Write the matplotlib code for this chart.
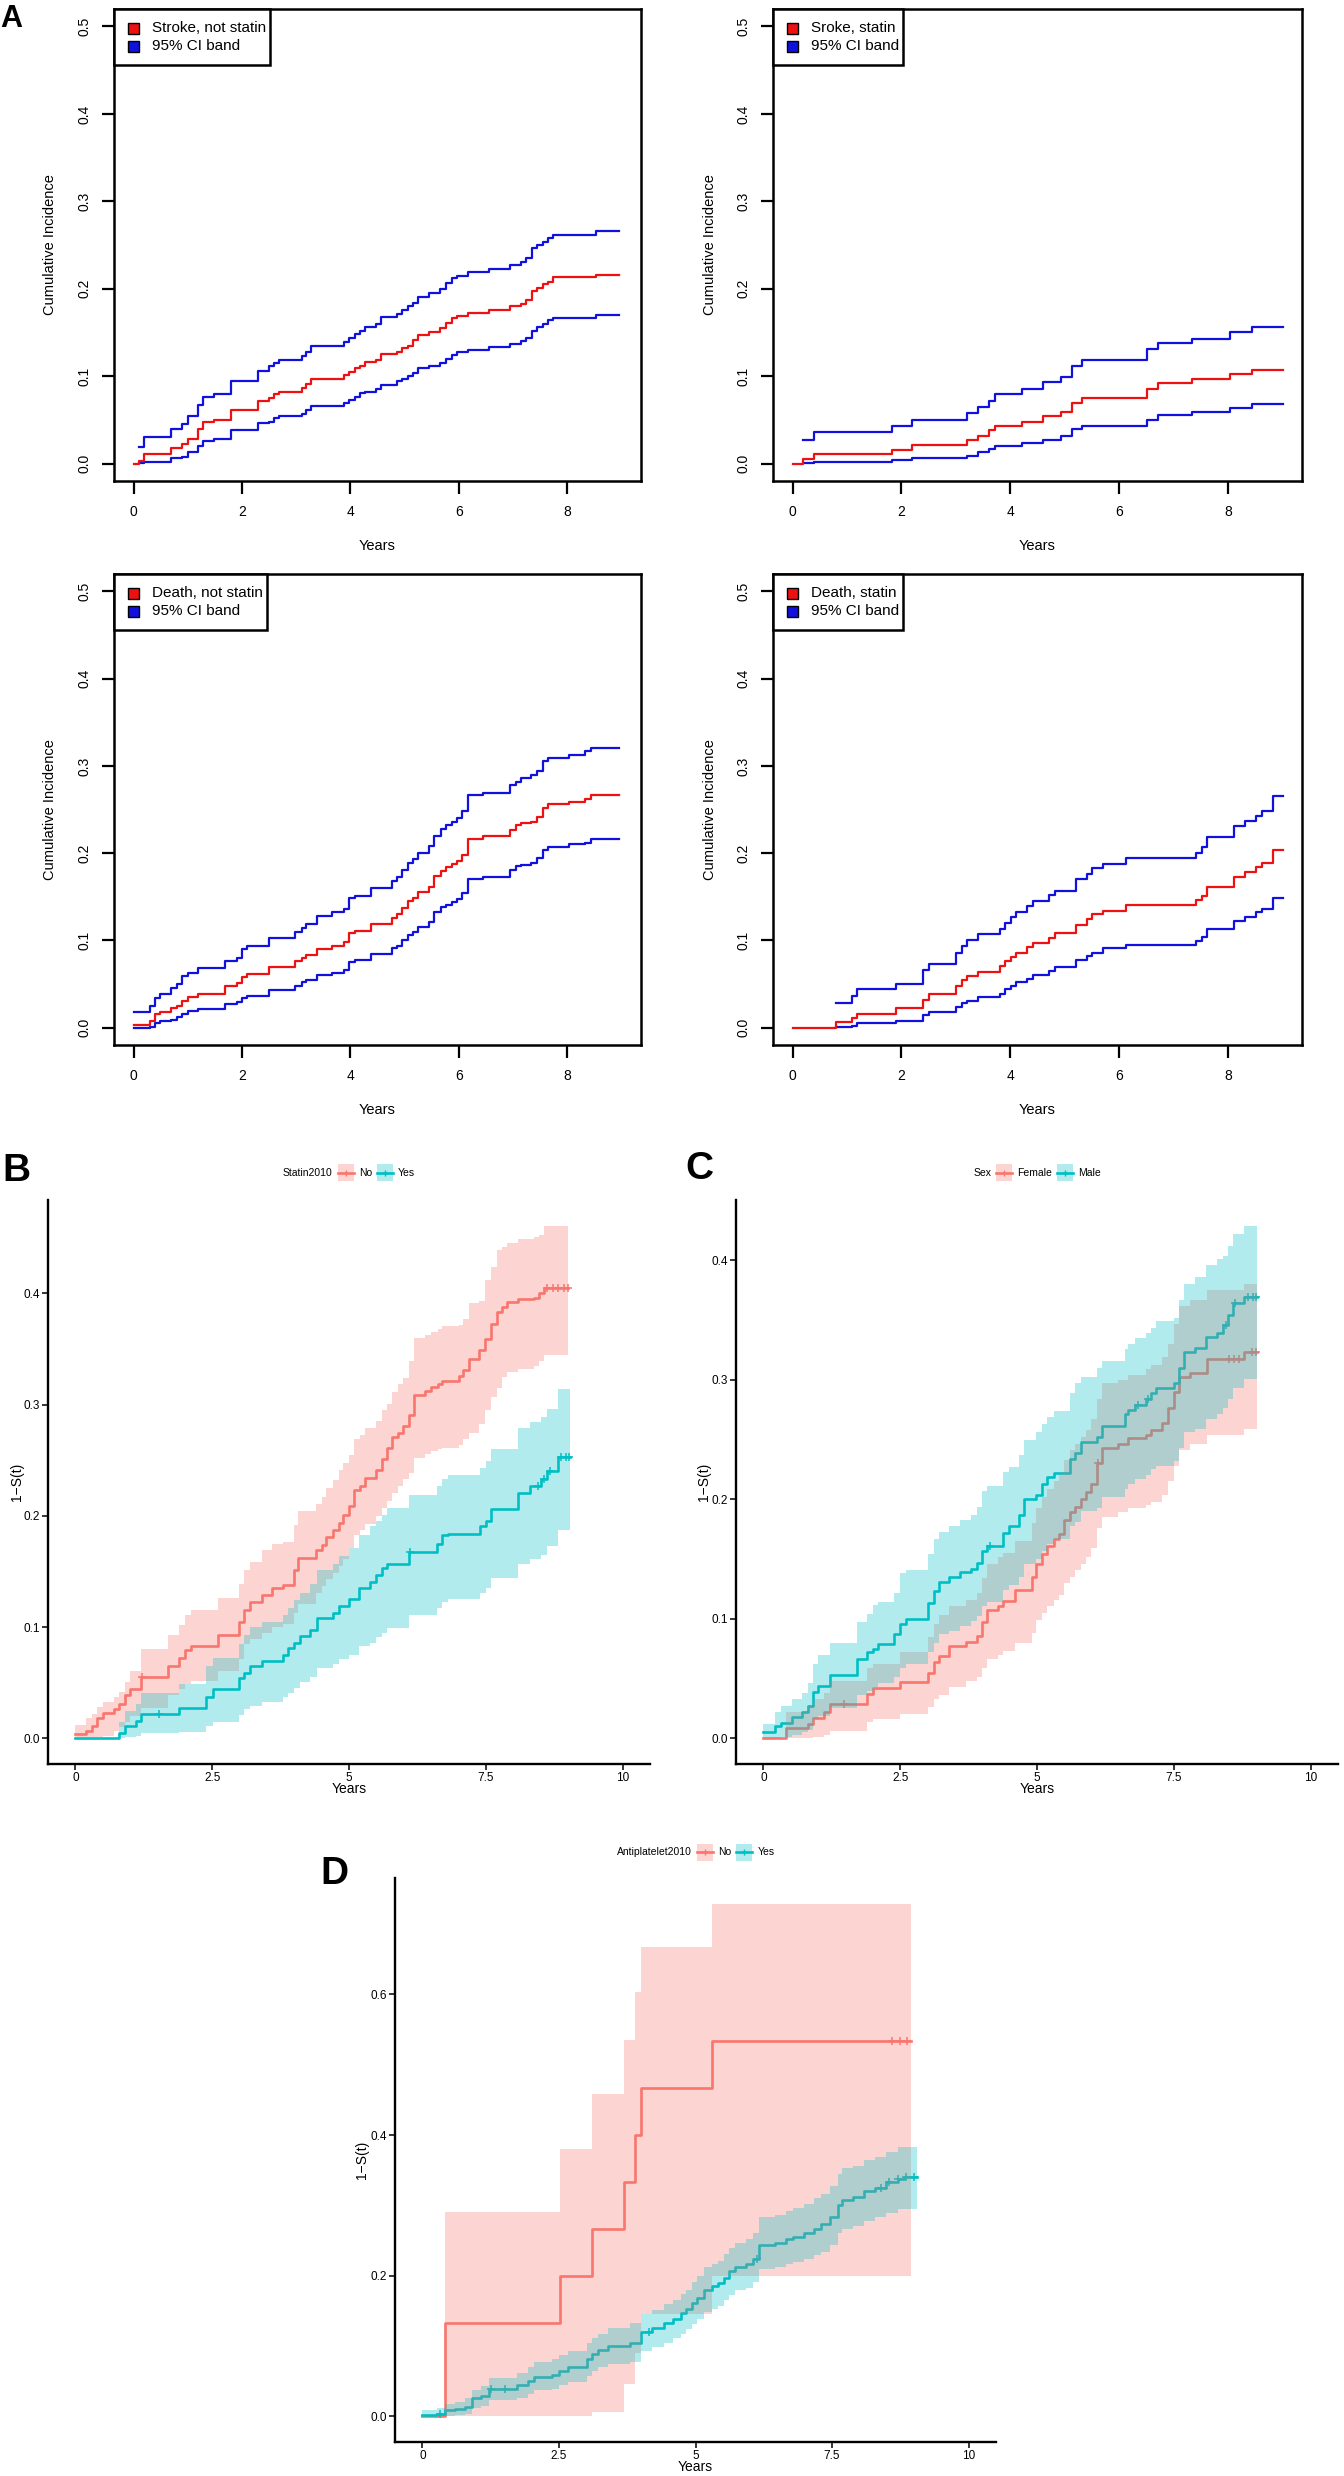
import numpy as np
import matplotlib
matplotlib.use("Agg")
import matplotlib.pyplot as plt
from matplotlib.patches import Rectangle
from matplotlib.lines import Line2D

plt.rcParams['font.family'] = ['Liberation Sans', 'DejaVu Sans']

W, H = 1344, 2476
nan = np.nan

# ======================= DATA =======================
# ---- Panel A1: Stroke, not statin ----
a1_t = [0, 0.10, 0.20, 0.69, 0.90, 1.00, 1.19, 1.29, 1.49, 1.80,
        2.29, 2.49, 2.59, 2.69, 3.10, 3.19, 3.28, 3.88, 3.98, 4.08,
        4.18, 4.27, 4.47, 4.57, 4.86, 4.96, 5.06, 5.16, 5.25, 5.45,
        5.65, 5.76, 5.87, 5.96, 6.16, 6.55, 6.94, 7.14, 7.23, 7.35,
        7.44, 7.55, 7.65, 7.74, 8.53]
a1_end = 8.96
a1_est = [0, .003, .011, .018, .022, .028, .040, .047, .050, .061,
          .072, .075, .079, .082, .086, .091, .097, .101, .105, .109,
          .112, .116, .119, .125, .128, .132, .135, .141, .147, .151,
          .155, .161, .166, .169, .172, .176, .180, .183, .187, .197,
          .201, .205, .208, .213, .216]
a1_hi = [nan, .019, .030, .039, .045, .054, .067, .076, .080, .094,
         .106, .111, .115, .119, .123, .128, .135, .139, .144, .148,
         .152, .156, .160, .168, .171, .176, .180, .184, .191, .195,
         .200, .206, .212, .215, .219, .222, .227, .231, .235, .246,
         .250, .254, .258, .261, .266]
a1_lo = [nan, .001, .002, .006, .008, .013, .020, .026, .028, .038,
         .046, .048, .052, .054, .057, .061, .066, .069, .073, .076,
         .081, .082, .085, .090, .094, .097, .100, .103, .109, .112,
         .115, .120, .124, .128, .130, .133, .137, .140, .144, .152,
         .156, .160, .164, .166, .170]

# ---- Panel A2: Stroke, statin ----
a2_t = [0, 0.20, 0.40, 1.82, 2.20, 3.21, 3.40, 3.61, 3.71, 4.22,
        4.60, 4.94, 5.13, 5.32, 6.51, 6.72, 7.33, 8.03, 8.45]
a2_end = 9.02
a2_est = [0, .0055, .011, .016, .021, .027, .032, .038, .043, .048,
          .054, .059, .069, .075, .085, .092, .097, .102, .107]
a2_hi = [nan, .027, .036, .043, .050, .058, .065, .072, .079, .085,
         .093, .099, .112, .119, .131, .138, .143, .150, .156]
a2_lo = [nan, .001, .002, .004, .006, .009, .013, .017, .020, .024,
         .027, .032, .039, .043, .050, .056, .059, .063, .068]

# ---- Panel A3: Death, not statin ----
a3_t = [0, 0.30, 0.39, 0.49, 0.69, 0.80, 0.90, 1.00, 1.19, 1.69,
        1.90, 2.00, 2.10, 2.49, 2.98, 3.10, 3.19, 3.39, 3.67, 3.88,
        3.98, 4.08, 4.38, 4.77, 4.86, 4.96, 5.06, 5.16, 5.25, 5.45,
        5.55, 5.67, 5.76, 5.87, 5.96, 6.06, 6.16, 6.45, 6.94, 7.06,
        7.15, 7.33, 7.44, 7.55, 7.65, 8.04, 8.33, 8.43]
a3_end = 8.96
a3_est = [.003, .007, .015, .018, .022, .025, .031, .035, .039, .048,
          .051, .058, .061, .069, .076, .080, .083, .090, .094, .098,
          .108, .111, .119, .126, .130, .137, .145, .149, .155, .161,
          .174, .180, .184, .187, .191, .198, .216, .220, .227, .232,
          .234, .236, .241, .252, .256, .259, .262, .267]
a3_hi = [.018, .025, .034, .039, .045, .050, .059, .063, .068, .076,
         .080, .090, .094, .103, .110, .114, .119, .128, .132, .136,
         .149, .151, .160, .168, .173, .181, .189, .193, .200, .208,
         .220, .228, .232, .236, .240, .248, .267, .269, .278, .282,
         .286, .289, .294, .306, .309, .312, .317, .320]
a3_lo = [0, .001, .005, .007, .009, .012, .016, .019, .021, .027,
         .029, .034, .036, .043, .048, .052, .055, .060, .063, .066,
         .075, .078, .084, .091, .094, .100, .106, .109, .115, .121,
         .132, .138, .141, .144, .147, .154, .170, .173, .181, .185,
         .186, .189, .194, .203, .207, .210, .212, .216]

# ---- Panel A4: Death, statin ----
a4_t = [0, 0.79, 1.10, 1.19, 1.90, 2.40, 2.50, 3.01, 3.11, 3.21,
        3.40, 3.81, 3.90, 4.01, 4.10, 4.30, 4.42, 4.71, 4.82, 5.21,
        5.41, 5.51, 5.71, 6.13, 7.42, 7.52, 7.61, 8.11, 8.31, 8.52,
        8.63, 8.83]
a4_end = 9.02
a4_est = [0, .006, .011, .016, .022, .032, .038, .048, .054, .059,
          .064, .070, .076, .081, .086, .092, .097, .103, .108, .118,
          .124, .130, .134, .140, .146, .151, .161, .173, .178, .184,
          .189, .204]
a4_hi = [nan, .028, .036, .044, .050, .066, .073, .086, .093, .100,
         .107, .113, .120, .127, .132, .139, .145, .152, .157, .170,
         .176, .183, .188, .194, .200, .207, .218, .231, .237, .243,
         .248, .266]
a4_lo = [nan, .001, .002, .005, .007, .014, .018, .024, .028, .031,
         .035, .039, .044, .048, .052, .056, .060, .065, .069, .077,
         .082, .086, .091, .095, .099, .104, .113, .122, .127, .132,
         .136, .149]

# ---- Panel B: Statin2010 ----
b_no_t = [0, 0.20, 0.30, 0.40, 0.51, 0.70, 0.80, 0.90, 0.99, 1.20,
          1.70, 1.90, 2.01, 2.11, 2.61, 2.99, 3.09, 3.19, 3.41, 3.60,
          3.80, 3.99, 4.07, 4.39, 4.50, 4.58, 4.70, 4.82, 4.89, 5.00,
          5.09, 5.21, 5.30, 5.50, 5.60, 5.70, 5.79, 5.90, 5.99, 6.09,
          6.19, 6.38, 6.50, 6.62, 6.70, 7.01, 7.09, 7.20, 7.38, 7.48,
          7.60, 7.70, 7.79, 7.89, 8.09, 8.38, 8.47, 8.57]
b_no_end = 9.01
b_no_est = [.004, .007, .011, .018, .023, .026, .031, .039, .044, .055,
            .065, .072, .079, .083, .093, .105, .115, .123, .129, .135,
            .138, .151, .162, .169, .174, .181, .187, .194, .201, .209,
            .223, .227, .234, .241, .251, .261, .271, .275, .281, .291,
            .309, .312, .316, .319, .321, .326, .331, .341, .349, .359,
            .373, .383, .388, .392, .395, .396, .400, .405]
b_no_hi = [.012, .018, .022, .028, .033, .037, .042, .051, .061, .080,
           .093, .102, .111, .115, .126, .139, .151, .159, .169, .175,
           .177, .192, .204, .211, .217, .225, .232, .241, .248, .255,
           .269, .273, .279, .285, .295, .301, .311, .319, .324, .339,
           .360, .363, .365, .368, .371, .372, .377, .391, .393, .412,
           .424, .439, .442, .445, .449, .451, .453, .461]
b_no_lo = [0, 0, 0, .001, .002, .007, .010, .015, .020, .027,
           .039, .044, .049, .052, .061, .071, .085, .089, .095, .100,
           .103, .113, .121, .131, .137, .143, .149, .155, .161, .171,
           .183, .187, .193, .200, .207, .213, .221, .227, .233, .239,
           .252, .256, .258, .260, .261, .264, .269, .275, .283, .295,
           .307, .315, .325, .329, .332, .335, .339, .345]
b_no_cens = [1.22, 8.62, 8.72, 8.82, 8.92, 9.0]

b_yes_t = [0, 0.80, 0.90, 1.10, 1.20, 1.90, 2.39, 2.51, 2.99, 3.09,
           3.19, 3.41, 3.80, 3.89, 3.99, 4.10, 4.28, 4.41, 4.70, 4.82,
           5.00, 5.19, 5.38, 5.50, 5.60, 5.70, 6.09, 6.60, 6.70, 6.80,
           7.40, 7.50, 7.60, 8.09, 8.30, 8.50, 8.62, 8.81]
b_yes_end = 9.04
b_yes_est = [0, .005, .011, .016, .022, .027, .037, .044, .054, .059,
             .065, .070, .075, .081, .086, .092, .097, .108, .113, .119,
             .125, .135, .141, .147, .153, .157, .168, .175, .183, .184,
             .191, .195, .206, .221, .227, .233, .240, .253]
b_yes_hi = [0, .015, .025, .031, .041, .049, .065, .072, .085, .093,
            .100, .105, .111, .117, .124, .131, .139, .151, .157, .164,
            .171, .183, .191, .195, .201, .207, .219, .227, .233, .237,
            .243, .249, .260, .279, .284, .289, .296, .314]
b_yes_lo = [0, 0, .001, .002, .005, .006, .011, .015, .021, .026,
            .029, .033, .037, .041, .045, .051, .055, .063, .067, .071,
            .075, .083, .086, .091, .095, .099, .111, .117, .123, .125,
            .131, .135, .144, .157, .161, .165, .173, .187]
b_yes_cens = [1.53, 6.12, 8.45, 8.56, 8.68, 8.88, 8.97, 9.02]

# ---- Panel C: Sex ----
c_f_t = [0, 0.41, 0.81, 0.91, 1.10, 1.21, 1.90, 2.00, 2.50, 3.01,
         3.11, 3.21, 3.40, 3.70, 3.90, 3.99, 4.09, 4.29, 4.38, 4.60,
         4.90, 4.99, 5.09, 5.19, 5.31, 5.41, 5.50, 5.60, 5.70, 5.80,
         5.89, 5.99, 6.09, 6.19, 6.48, 6.67, 6.99, 7.09, 7.28, 7.39,
         7.50, 7.60, 7.79, 8.10, 8.79]
c_f_end = 9.02
c_f_est = [0, .0085, .012, .017, .022, .029, .037, .042, .047, .055,
           .064, .069, .077, .081, .086, .097, .107, .111, .115, .124,
           .135, .146, .154, .161, .167, .171, .183, .189, .194, .200,
           .206, .213, .230, .243, .246, .251, .254, .258, .264, .276,
           .290, .302, .306, .317, .323]
c_f_hi = [0, .022, .027, .033, .038, .048, .059, .062, .072, .085,
          .096, .103, .111, .116, .122, .134, .146, .152, .155, .165,
          .180, .193, .202, .209, .215, .222, .233, .241, .246, .252,
          .258, .267, .284, .297, .300, .304, .309, .312, .319, .330,
          .347, .362, .367, .375, .380]
c_f_lo = [0, 0, 0, .001, .003, .006, .014, .016, .020, .026,
          .033, .036, .043, .048, .051, .059, .066, .070, .073, .080,
          .088, .099, .105, .111, .116, .120, .130, .135, .141, .146,
          .152, .159, .176, .185, .189, .193, .195, .198, .204, .215,
          .228, .241, .246, .254, .259]
c_f_cens = [1.47, 6.12, 8.5, 8.6, 8.7, 8.92, 9.0]

c_m_t = [0, 0.22, 0.32, 0.52, 0.71, 0.81, 0.91, 1.00, 1.21, 1.71,
         1.90, 2.00, 2.10, 2.39, 2.50, 2.61, 3.01, 3.11, 3.21, 3.40,
         3.60, 3.79, 3.90, 3.99, 4.09, 4.38, 4.48, 4.68, 4.77, 4.99,
         5.09, 5.19, 5.31, 5.60, 5.70, 5.80, 6.09, 6.19, 6.60, 6.67,
         6.79, 6.99, 7.09, 7.18, 7.50, 7.60, 7.69, 7.89, 8.08, 8.28,
         8.40, 8.49, 8.59, 8.79]
c_m_end = 9.02
c_m_est = [.005, .010, .013, .018, .022, .027, .039, .044, .053, .066,
           .072, .075, .079, .087, .096, .100, .113, .123, .131, .135,
           .139, .142, .147, .157, .161, .172, .178, .187, .200, .204,
           .213, .219, .222, .234, .239, .248, .252, .261, .271, .275,
           .279, .284, .289, .293, .297, .310, .323, .327, .336, .339,
           .346, .354, .364, .369]
c_m_hi = [.012, .022, .027, .033, .038, .046, .062, .070, .080, .097,
          .104, .112, .114, .122, .138, .141, .154, .167, .173, .178,
          .183, .187, .194, .207, .211, .223, .227, .237, .250, .256,
          .263, .269, .274, .289, .297, .302, .310, .316, .326, .330,
          .335, .339, .343, .349, .352, .367, .380, .386, .396, .401,
          .404, .412, .422, .429]
c_m_lo = [0, 0, .001, .003, .005, .007, .016, .019, .025, .036,
          .040, .043, .046, .051, .059, .062, .072, .080, .087, .090,
          .094, .098, .102, .111, .114, .124, .128, .135, .146, .150,
          .157, .163, .167, .178, .181, .190, .193, .202, .209, .213,
          .217, .220, .225, .228, .232, .243, .256, .259, .267, .271,
          .276, .284, .293, .301]
c_m_cens = [4.14, 6.85, 7.02, 8.45, 8.62, 8.85, 8.95, 9.0]

# ---- Panel D: Antiplatelet2010 ----
d_no_t = [0, 0.41, 2.52, 3.11, 3.70, 3.90, 4.01, 5.30]
d_no_end = 8.94
d_no_est = [0, .133, .200, .267, .333, .400, .467, .533]
d_no_hi = [0, .290, .380, .459, .535, .604, .667, .729]
d_no_lo = [0, 0, 0, .006, .046, .090, .145, .199]
d_no_cens = [8.6, 8.75, 8.88]

d_yes_t = [0, 0.26, 0.41, 0.59, 0.79, 0.91, 1.08, 1.22, 1.73, 1.93,
           2.05, 2.38, 2.50, 2.67, 3.02, 3.11, 3.21, 3.40, 3.81, 4.01,
           4.21, 4.42, 4.58, 4.73, 4.82, 4.93, 5.03, 5.15, 5.30, 5.42,
           5.52, 5.62, 5.72, 5.93, 6.06, 6.17, 6.45, 6.66, 6.78, 6.98,
           7.17, 7.29, 7.47, 7.60, 7.69, 7.88, 8.08, 8.29, 8.49, 8.70,
           8.82]
d_yes_end = 9.06
d_yes_est = [.002, .004, .009, .010, .013, .026, .029, .039, .044, .050,
             .056, .059, .065, .070, .081, .088, .094, .100, .104, .120,
             .125, .133, .139, .147, .153, .161, .169, .180, .185, .190,
             .197, .206, .212, .217, .224, .243, .246, .252, .255, .261,
             .267, .273, .284, .301, .308, .312, .320, .325, .333, .338,
             .341]
d_yes_hi = [.009, .012, .017, .021, .026, .038, .043, .055, .062, .070,
            .078, .081, .087, .093, .105, .111, .117, .125, .133, .145,
            .151, .160, .166, .174, .180, .191, .200, .212, .217, .221,
            .231, .240, .246, .252, .261, .283, .286, .292, .296, .302,
            .310, .316, .328, .345, .353, .356, .365, .369, .376, .383,
            .383]
d_yes_lo = [0, 0, 0, .002, .004, .012, .015, .023, .026, .032,
            .037, .039, .044, .049, .057, .065, .070, .075, .078, .093,
            .099, .105, .111, .117, .124, .131, .139, .148, .153, .157,
            .165, .172, .179, .183, .191, .209, .212, .217, .220, .224,
            .229, .234, .243, .261, .267, .270, .278, .283, .289, .295,
            .295]
d_yes_cens = [0.32, 1.25, 1.52, 4.15, 6.12, 8.4, 8.55, 8.7, 8.85, 9.0]

# ======================= STYLE =======================
RED_A, BLUE_A = '#EE1111', '#1111DD'
GG_RED, GG_CYAN = '#F8766D', '#00BFC4'

fig = plt.figure(figsize=(W / 100, H / 100), dpi=100)
renderer = fig.canvas.get_renderer()


def fx(x):
    return x / W


def fy(y):
    return 1 - y / H


def ax_at(x0, y0, x1, y1):
    return fig.add_axes([x0 / W, 1 - y1 / H, (x1 - x0) / W, (y1 - y0) / H])


def ext(vals, end):
    return np.append(np.asarray(vals, float), vals[-1]), end


def draw_A(box, t, end, est, lo, hi, label, ylab_x):
    x0, y0, x1, y1 = box
    ax = ax_at(*box)
    tt = np.append(np.asarray(t, float), end)
    for vals, col in [(hi, BLUE_A), (lo, BLUE_A), (est, RED_A)]:
        v = np.append(np.asarray(vals, float), vals[-1])
        ax.step(tt, v, where='post', color=col, lw=1.6)
    ax.set_xlim(-0.36, 9.36)
    ax.set_ylim(-0.02, 0.52)
    ax.set_xticks([0, 2, 4, 6, 8])
    ax.set_xticklabels(['0', '2', '4', '6', '8'])
    yt = [0, 0.1, 0.2, 0.3, 0.4, 0.5]
    ax.set_yticks(yt)
    ax.set_yticklabels(['%.1f' % v for v in yt], rotation=90, va='center')
    ax.tick_params(axis='both', direction='out', length=9, width=1.6,
                   labelsize=10, colors='black')
    ax.tick_params(axis='x', pad=8)
    ax.tick_params(axis='y', pad=7)
    for s in ax.spines.values():
        s.set_linewidth(1.8)
    # axis titles
    fig.text(fx((x0 + x1) / 2), fy(y1 + 65), 'Years', fontsize=10.5,
             ha='center', va='center')
    fig.text(fx(ylab_x), fy((y0 + y1) / 2), 'Cumulative Incidence',
             fontsize=10.5, rotation=90, ha='center', va='center')
    # legend (R style, top-left)
    t1 = fig.text(fx(x0 + 38), fy(y0 + 19), label, fontsize=11,
                  ha='left', va='center')
    t2 = fig.text(fx(x0 + 38), fy(y0 + 37), '95% CI band', fontsize=11,
                  ha='left', va='center')
    tw = max(t1.get_window_extent(renderer).width,
             t2.get_window_extent(renderer).width)
    lw_px = 38 + tw + 4
    fig.patches.append(Rectangle((fx(x0), fy(y0 + 56)), lw_px / W, 56 / H,
                                 transform=fig.transFigure, facecolor='white',
                                 edgecolor='black', lw=1.8, zorder=5))
    t1.set_zorder(6)
    t2.set_zorder(6)
    for yy, col in [(19, RED_A), (37, BLUE_A)]:
        fig.patches.append(Rectangle((fx(x0 + 14), fy(y0 + yy + 5.5)), 11 / W, 11 / H,
                                     transform=fig.transFigure, facecolor=col,
                                     edgecolor='black', lw=1.0, zorder=6))
    return ax


def step_val(t, v, c):
    i = np.searchsorted(np.asarray(t, float), c, side='right') - 1
    return np.asarray(v, float)[i]


def draw_km(box, groups, yticks, ylab_x, years_y):
    x0, y0, x1, y1 = box
    ax = ax_at(*box)
    # lines first
    for g in groups:
        tt = np.append(np.asarray(g['t'], float), g['end'])
        v = np.append(np.asarray(g['est'], float), g['est'][-1])
        ax.step(tt, v, where='post', color=g['col'], lw=1.9, zorder=2)
        cy = [step_val(g['t'], g['est'], c) for c in g['cens']]
        ax.plot(g['cens'], cy, ls='none', marker='+', ms=6, mew=1.1,
                color=g['col'], zorder=2)
    # ribbons above lines
    for g in groups:
        tt = np.append(np.asarray(g['t'], float), g['end'])
        lo = np.append(np.asarray(g['lo'], float), g['lo'][-1])
        hi = np.append(np.asarray(g['hi'], float), g['hi'][-1])
        ax.fill_between(tt, lo, hi, step='post', color=g['col'], alpha=0.3,
                        lw=0, zorder=3)
    ymax = max(max(g['hi']) for g in groups)
    ax.set_ylim(-0.05 * ymax, ymax * 1.05)
    ax.set_xlim(-0.5, 10.5)
    ax.set_xticks([0, 2.5, 5, 7.5, 10])
    ax.set_xticklabels(['0', '2.5', '5', '7.5', '10'])
    ax.set_yticks(yticks)
    ax.set_yticklabels(['%.1f' % v for v in yticks])
    ax.tick_params(axis='both', direction='out', length=4, width=1.1,
                   labelsize=8.5, colors='black', pad=1.5)
    for s in ['top', 'right']:
        ax.spines[s].set_visible(False)
    for s in ['left', 'bottom']:
        ax.spines[s].set_linewidth(1.7)
    fig.text(fx((x0 + x1) / 2), fy(years_y), 'Years', fontsize=10,
             ha='center', va='center')
    fig.text(fx(ylab_x), fy((y0 + y1) / 2), '1\u2212S(t)', fontsize=10,
             rotation=90, ha='center', va='center')
    return ax


def gg_legend(cx, cy, title, labels, colors):
    fs = 7.5
    items = []
    tt = fig.text(0, fy(cy), title, fontsize=fs, ha='left', va='center')
    items.append(('text', tt, tt.get_window_extent(renderer).width))
    for lab, col in zip(labels, colors):
        items.append(('key', col, 16))
        t = fig.text(0, fy(cy), lab, fontsize=fs, ha='left', va='center')
        items.append(('text', t, t.get_window_extent(renderer).width))
    gaps = []
    for i in range(len(items) - 1):
        gaps.append(5 if items[i + 1][0] == 'key' else 5)
    total = sum(it[2] for it in items) + sum(gaps)
    x = cx - total / 2
    for i, it in enumerate(items):
        if it[0] == 'text':
            it[1].set_x(fx(x))
        else:
            col = it[1]
            fig.patches.append(Rectangle((fx(x), fy(cy + 8.5)), 16 / W, 17 / H,
                                         transform=fig.transFigure, facecolor=col,
                                         alpha=0.3, edgecolor='none'))
            fig.lines.append(Line2D([fx(x), fx(x + 16)], [fy(cy), fy(cy)],
                                    transform=fig.transFigure, color=col, lw=1.9))
            fig.lines.append(Line2D([fx(x + 8)], [fy(cy)], marker='+', ms=5,
                                    mew=1.0, color=col, transform=fig.transFigure))
        x += it[2]
        if i < len(gaps):
            x += gaps[i]


# ======================= PANEL A =======================
draw_A((114, 9, 641, 481), a1_t, a1_end, a1_est, a1_lo, a1_hi, 'Stroke, not statin', 50)
draw_A((773, 9, 1302, 481), a2_t, a2_end, a2_est, a2_lo, a2_hi, 'Sroke, statin', 710)
draw_A((114, 574, 641, 1045), a3_t, a3_end, a3_est, a3_lo, a3_hi, 'Death, not statin', 50)
draw_A((773, 574, 1302, 1045), a4_t, a4_end, a4_est, a4_lo, a4_hi, 'Death, statin', 710)

# ======================= PANEL B =======================
draw_km((48, 1200, 650, 1764), [
    dict(t=b_no_t, end=b_no_end, est=b_no_est, lo=b_no_lo, hi=b_no_hi, cens=b_no_cens, col=GG_RED),
    dict(t=b_yes_t, end=b_yes_end, est=b_yes_est, lo=b_yes_lo, hi=b_yes_hi, cens=b_yes_cens, col=GG_CYAN),
], [0, 0.1, 0.2, 0.3, 0.4], 17, 1789)
gg_legend(349, 1173, 'Statin2010', ['No', 'Yes'], [GG_RED, GG_CYAN])

# ======================= PANEL C =======================
draw_km((736, 1200, 1338, 1764), [
    dict(t=c_f_t, end=c_f_end, est=c_f_est, lo=c_f_lo, hi=c_f_hi, cens=c_f_cens, col=GG_RED),
    dict(t=c_m_t, end=c_m_end, est=c_m_est, lo=c_m_lo, hi=c_m_hi, cens=c_m_cens, col=GG_CYAN),
], [0, 0.1, 0.2, 0.3, 0.4], 704, 1789)
gg_legend(1037, 1173, 'Sex', ['Female', 'Male'], [GG_RED, GG_CYAN])

# ======================= PANEL D =======================
draw_km((395, 1878, 996, 2442), [
    dict(t=d_no_t, end=d_no_end, est=d_no_est, lo=d_no_lo, hi=d_no_hi, cens=d_no_cens, col=GG_RED),
    dict(t=d_yes_t, end=d_yes_end, est=d_yes_est, lo=d_yes_lo, hi=d_yes_hi, cens=d_yes_cens, col=GG_CYAN),
], [0, 0.2, 0.4, 0.6], 362, 2467)
gg_legend(696, 1852, 'Antiplatelet2010', ['No', 'Yes'], [GG_RED, GG_CYAN])

# ======================= PANEL LETTERS =======================
fig.text(fx(0), fy(4), 'A', fontsize=22, fontweight='bold', ha='left', va='top')
fig.text(fx(2), fy(1153), 'B', fontsize=28, fontweight='bold', ha='left', va='top')
fig.text(fx(685), fy(1151), 'C', fontsize=28, fontweight='bold', ha='left', va='top')
fig.text(fx(320), fy(1856), 'D', fontsize=28, fontweight='bold', ha='left', va='top')

fig.savefig('out.png', dpi=100)
